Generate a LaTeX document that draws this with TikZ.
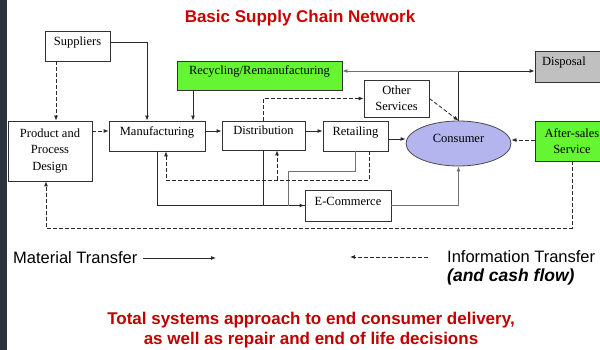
\documentclass[tikz,border=0pt]{standalone}
\usepackage{fontspec}
\setmainfont{Liberation Serif}
\newfontfamily\legendfont{Liberation Sans}
\usetikzlibrary{arrows.meta,calc,shapes.geometric}
\definecolor{titlered}{HTML}{CC0000}
\definecolor{notered}{HTML}{C00000}
\definecolor{boxgreen}{HTML}{66F533}
\definecolor{consfill}{HTML}{B4B4EE}
\definecolor{dispgray}{HTML}{C0C0C0}
\definecolor{sidebar}{HTML}{2B333D}
\definecolor{linegray}{HTML}{2A2A2A}
\definecolor{lightline}{HTML}{707070}
\tikzset{
  stage/.style={draw=black!80, line width=0.8pt, fill=white, align=center, inner sep=2pt,
    font=\fontsize{12.5}{16}\selectfont},
  lift/.style={text height=8.5pt, text depth=9.5pt},
  tip/.style={-{Latex[length=5pt,width=4pt]}},
  mat/.style={draw=linegray, line width=0.9pt, tip},
  matline/.style={draw=linegray, line width=0.9pt},
  matgray/.style={draw=lightline, line width=0.9pt},
  info/.style={draw=linegray, line width=0.8pt, dash pattern=on 4pt off 2pt, tip},
  legend/.style={inner sep=0pt, font=\legendfont\fontsize{16.5}{19}\selectfont},
}
\begin{document}
\begin{tikzpicture}[x=1pt,y=-1pt]
\clip (0,0) rectangle (600,350);
\fill[white] (0,0) rectangle (600,350);
\fill[sidebar] (0,0) rectangle (7,350);

% title
\node[text=titlered, font=\legendfont\bfseries\fontsize{17}{20}\selectfont] (title) at (300,18)
  {Basic Supply Chain Network};

% stages of the chain
\node[stage, lift, minimum width=65, minimum height=30] (sup) at (77.5,46) {Suppliers};
\node[stage, minimum width=84, minimum height=60, font=\fontsize{12.5}{16.5}\selectfont] (pd) at (50,151)
  {Product and\\Process\\Design};
\node[stage, lift, minimum width=96, minimum height=30] (man) at (157,136) {Manufacturing};
\node[stage, lift, fill=boxgreen, minimum width=165, minimum height=29] (rec) at (259.5,75.5)
  {Recycling/Remanufacturing};
\node[stage, lift, minimum width=83, minimum height=29] (dist) at (263.5,135.5) {Distribution};
\node[stage, lift, minimum width=65, minimum height=30] (ret) at (355.5,136) {Retailing};
\node[stage, minimum width=65, minimum height=37] (oth) at (396.5,98.5) {Other\\Services};
\node[ellipse, lift, draw=black!70, line width=0.8pt, fill=consfill, inner sep=0pt,
  minimum width=105, minimum height=45, font=\fontsize{12.5}{16}\selectfont] (con) at (458.5,143.5) {Consumer};
\node[stage, lift, fill=dispgray, minimum width=74, minimum height=31, text width=60, align=left]
  (dis) at (572,66.5) {Disposal};
\node[stage, fill=boxgreen, minimum width=74, minimum height=40] (aft) at (572,141)
  {After-sales\\Service};
\node[stage, lift, minimum width=86, minimum height=31] (ecom) at (348,205.5) {E-Commerce};

% material flows
\draw[mat] (sup.east |- 0,42) -| (man.north -| 147,0);
\draw[mat] (rec.south -| 193,0) -- (man.north -| 193,0);
\draw[mat] (man.east |- 0,131) -- (dist.west |- 0,131);
\draw[mat] (dist.east |- 0,131) -- (ret.west |- 0,131);
\draw[mat] (ret.east |- 0,139) -- (con.west |- 0,139);
\coordinate (up) at (con.north |- 0,71);
\draw[matline] (con.north) -- (up);
\draw[mat] (up) -- (dis.west |- up);
\draw[mat, draw=lightline] (up) -- (rec.east |- up);
\draw[mat] (man.south) |- (ecom.west);
\draw[matline] (dist.south) |- (ecom.west);
\coordinate (rbend) at (ret.south |- 0,171);
\coordinate (rjoin) at (288,205.5);
\draw[matgray] (ret.south) -- (rbend) -| (rjoin);
\draw[mat, draw=lightline] (ecom.east) -| (con.south);

% information flows
\coordinate (sdrop) at (sup.south -| 56,0);
\draw[info] (sdrop) -- (sdrop |- pd.north);
\draw[info] (pd.east |- 0,131) -- (man.west |- 0,131);
\draw[info] (dist.north) |- (oth.west);
\draw[info] (oth.east) -- (con.north);
\draw[info] (aft.west |- 0,140) -- (con.east |- 0,140);
\coordinate (aback) at (aft.south |- 0,228);
\draw[info] (aft.south) -- (aback) -| (pd.south -| 46,0);
\coordinate (rdrop) at (ret.south -| 369,0);
\coordinate (rback) at (369,180);
\coordinate (dsplit) at (277,180);
\draw[info] (rdrop) -- (rback) -| (man.south -| 166,0);
\draw[info] (dsplit) -- (dist.south -| 277,0);

% legend
\node[legend, anchor=west] (mt) at (13,258) {Material Transfer};
\coordinate (mtend) at (216,258);
\draw[mat, line width=0.8pt] ([xshift=6pt]mt.east) -- (mtend);
\node[legend, anchor=west] (it) at (447,257) {Information Transfer};
\coordinate (itend) at (350,257);
\draw[info] ([xshift=-19pt]it.west) -- (itend);
\node[legend, anchor=west, font=\legendfont\bfseries\itshape\fontsize{17.5}{20}\selectfont] (cf) at (447,277)
  {(and cash flow)};

% closing remark
\node[align=center, text=notered, font=\legendfont\bfseries\fontsize{17}{20}\selectfont] (note) at (311,330)
  {Total systems approach to end consumer delivery,\\as well as repair and end of life decisions};
\end{tikzpicture}
\end{document}
